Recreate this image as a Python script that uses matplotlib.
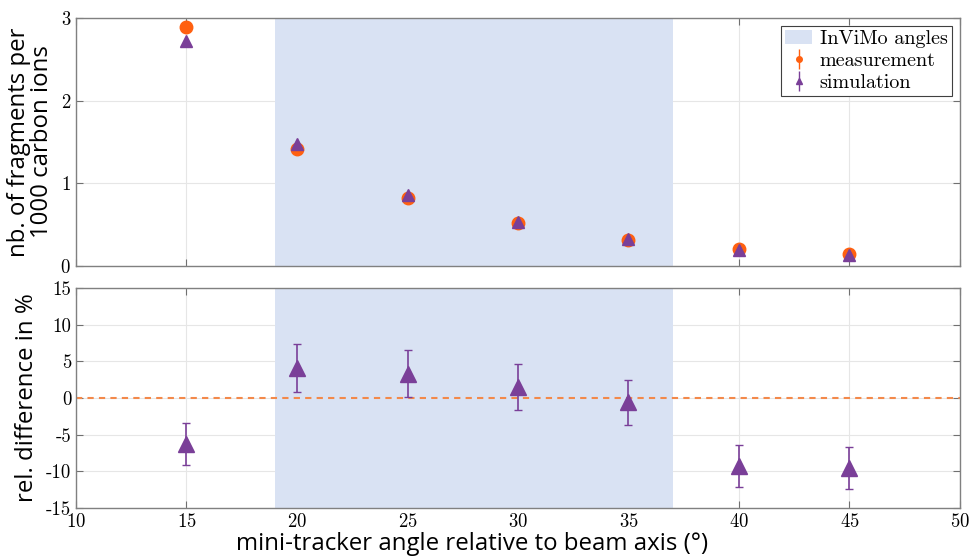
import matplotlib
matplotlib.use('Agg')
import matplotlib.pyplot as plt
import numpy as np

# --- data ---
angles = [15, 20, 25, 30, 35, 40, 45]
measurement = [2.89, 1.42, 0.82, 0.52, 0.32, 0.20, 0.14]
measurement_err = [0.06, 0.03, 0.02, 0.01, 0.01, 0.01, 0.01]
simulation = [2.72, 1.48, 0.86, 0.53, 0.33, 0.19, 0.13]
rel_diff = [-6.3, 4.1, 3.3, 1.5, -0.6, -9.3, -9.5]
rel_diff_err = [2.85, 3.25, 3.2, 3.15, 3.05, 2.85, 2.85]
invimo_range = (19, 37)

c_meas = '#ff6010'
c_sim = '#7a3f98'
c_shade = '#d9e2f3'
c_zero = '#f3894a'

plt.rcParams['axes.formatter.use_mathtext'] = True
plt.rcParams['mathtext.fontset'] = 'cm'
tick_font = 'cmr10'
label_font = 'Open Sans'
label_size = 17.3

fig = plt.figure(figsize=(9.69, 5.56), dpi=100)
ax1 = fig.add_axes([76 / 969, 1 - 266 / 556, 884 / 969, 248 / 556])
ax2 = fig.add_axes([76 / 969, 1 - 508 / 556, 884 / 969, 220 / 556])


def style_axes(ax):
    ax.set_xlim(10, 50)
    ax.set_xticks(np.arange(10, 55, 5))
    ax.grid(True, color='#e6e6e6', linewidth=0.8, zorder=0)
    ax.set_axisbelow(True)
    ax.tick_params(direction='in', top=True, right=True, length=5,
                   color='#707070', labelsize=13.5, width=0.8)
    for s in ax.spines.values():
        s.set_color('#808080')
        s.set_linewidth(1.0)
    for lab in ax.get_xticklabels() + ax.get_yticklabels():
        lab.set_fontfamily(tick_font)


# --- top panel: absolute yields ---
shade = ax1.axvspan(*invimo_range, color=c_shade, zorder=1, lw=0,
                    label='InViMo angles')
meas = ax1.errorbar(angles, measurement, yerr=measurement_err, fmt='o',
                    color=c_meas, ms=9, capsize=2, elinewidth=1, zorder=4,
                    label='measurement')
sim = ax1.errorbar(angles, simulation, fmt='^', color=c_sim, ms=9,
                   zorder=5, label='simulation')
ax1.set_ylim(0, 3)
ax1.set_yticks([0, 1, 2, 3])
style_axes(ax1)
ax1.tick_params(labelbottom=False)
ax1.set_ylabel('nb. of fragments per\n1000 carbon ions',
               fontfamily=label_font, fontsize=label_size, linespacing=0.95)
ax1.yaxis.set_label_coords(-0.025, 0.5)

leg_sim = ax1.errorbar([], [], yerr=[], fmt='^', color=c_sim, ms=5,
                       capsize=2, elinewidth=1)
leg_meas = ax1.errorbar([], [], yerr=[], fmt='o', color=c_meas, ms=4,
                        capsize=2, elinewidth=1)
leg = ax1.legend([shade, leg_meas, leg_sim],
                 ['InViMo angles', 'measurement', 'simulation'],
                 loc='upper right', bbox_to_anchor=(0.995, 0.985),
                 prop={'family': tick_font, 'size': 14.5}, fancybox=False,
                 framealpha=1, edgecolor='#404040', borderpad=0.2,
                 handlelength=1.3, handletextpad=0.4, labelspacing=0.2,
                 borderaxespad=0.2)
leg.get_frame().set_linewidth(0.8)

# --- bottom panel: relative difference ---
ax2.axvspan(*invimo_range, color=c_shade, zorder=1, lw=0)
ax2.axhline(0, color=c_zero, linestyle=(0, (3, 2.5)), linewidth=1.5, zorder=2)
ax2.errorbar(angles, rel_diff, yerr=rel_diff_err, fmt='^', color=c_sim,
             ms=11, capsize=3, elinewidth=1.2, capthick=1, zorder=5)
ax2.set_ylim(-15, 15)
ax2.set_yticks(np.arange(-15, 20, 5))
style_axes(ax2)
ax2.set_yticklabels([str(v) for v in range(-15, 20, 5)], fontfamily=tick_font)
ax2.set_ylabel('rel. difference in %', fontfamily=label_font,
               fontsize=label_size)
ax2.yaxis.set_label_coords(-0.042, 0.5)
ax2.set_xlabel('mini-tracker angle relative to beam axis (°)',
               fontfamily=label_font, fontsize=label_size, labelpad=1)
ax2.xaxis.label.set_x(0.448)

fig.savefig('out.png', dpi=100)
